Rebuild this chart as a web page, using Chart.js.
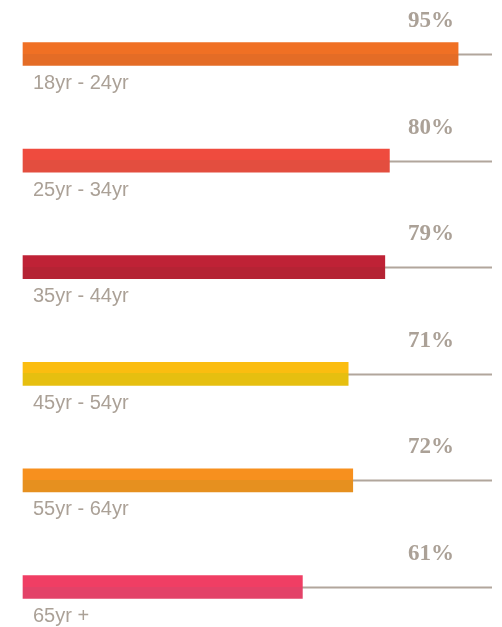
<!DOCTYPE html>
<html>
<head>
<meta charset="utf-8">
<script src="https://cdn.jsdelivr.net/npm/chart.js@4"></script>
<style>
  html, body { margin: 0; padding: 0; background: #ffffff; }
  #wrap { width: 502px; height: 627px; }
</style>
</head>
<body>
<div id="wrap"><canvas id="c" width="502" height="627"></canvas></div>
<script>
// Age groups and share per group (percent)
const ageGroups = ['18yr - 24yr', '25yr - 34yr', '35yr - 44yr', '45yr - 54yr', '55yr - 64yr', '65yr +'];
const shares = [95, 80, 79, 71, 72, 61];
// Two-tone fill per bar: upper half / lower half
const topColors = ['#f07024', '#ef4b3e', '#bf2236', '#fbbd10', '#f7901e', '#f03e64'];
const bottomColors = ['#e46c26', '#e34e3f', '#b52334', '#e6bf10', '#e6901f', '#e34268'];

const BAR = 23;
const GREY = '#aba197';

function barFill(ctx) {
  const chart = ctx.chart;
  if (!chart.chartArea || ctx.dataIndex === undefined) return topColors[ctx.dataIndex || 0];
  const y = chart.scales.y.getPixelForValue(ctx.dataIndex);
  const g = chart.ctx.createLinearGradient(0, y - BAR / 2, 0, y + BAR / 2);
  g.addColorStop(0, topColors[ctx.dataIndex]);
  g.addColorStop(0.48, topColors[ctx.dataIndex]);
  g.addColorStop(0.48, bottomColors[ctx.dataIndex]);
  g.addColorStop(1, bottomColors[ctx.dataIndex]);
  return g;
}

// Grey track from each bar's end, plus the group label and the value label
const decorations = {
  id: 'decorations',
  beforeDatasetsDraw(chart) {
    const { ctx, scales: { x, y }, chartArea } = chart;
    ctx.save();
    ctx.strokeStyle = '#b1a69c';
    ctx.lineWidth = 2;
    shares.forEach((v, i) => {
      const cy = Math.round(y.getPixelForValue(i));
      ctx.beginPath();
      ctx.moveTo(x.getPixelForValue(v) - 2, cy + 0.5);
      ctx.lineTo(chartArea.right + 11, cy + 0.5);
      ctx.stroke();
    });
    ctx.restore();
  },
  afterDatasetsDraw(chart) {
    const { ctx, scales: { x, y }, chartArea } = chart;
    ctx.save();
    ctx.textBaseline = 'alphabetic';
    shares.forEach((v, i) => {
      const cy = y.getPixelForValue(i);
      ctx.fillStyle = GREY;
      ctx.textAlign = 'left';
      ctx.font = '20px "Liberation Sans", Arial, sans-serif';
      ctx.fillText(ageGroups[i], chartArea.left + 10, cy + 35);
      ctx.font = 'bold 23px "Liberation Serif", "DejaVu Serif", serif';
      ctx.fillText(v + '%', 408, cy - 27);
    });
    ctx.restore();
  }
};

new Chart(document.getElementById('c'), {
  type: 'bar',
  data: {
    labels: ageGroups,
    datasets: [{
      data: shares,
      backgroundColor: barFill,
      borderWidth: 0,
      barThickness: BAR,
      clip: false
    }]
  },
  options: {
    indexAxis: 'y',
    responsive: false,
    animation: false,
    layout: { padding: { left: 23, right: 21, top: 54, bottom: 40 } },
    plugins: { legend: { display: false }, tooltip: { enabled: false } },
    scales: {
      x: { min: 0, max: 100, display: false },
      y: { display: false, offset: false }
    }
  },
  plugins: [decorations]
});
</script>
</body>
</html>
